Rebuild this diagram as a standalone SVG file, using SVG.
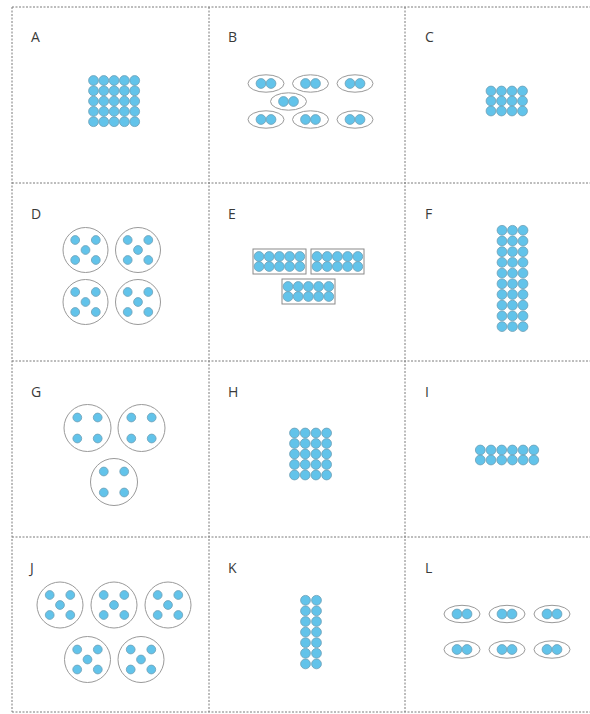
<svg xmlns="http://www.w3.org/2000/svg" width="590" height="714" viewBox="0 0 590 714">
<style>
.grid{stroke:#7a7a7a;stroke-width:1;stroke-dasharray:2 1.5;fill:none}
.lbl{font-family:"Open Sans","Noto Sans",sans-serif;font-size:14px;fill:#3a3a3a}
.ring{fill:#fff;stroke:#9a9a9a;stroke-width:1}
.box{fill:#fff;stroke:#8a8a8a;stroke-width:1}
</style>
<defs>
<circle id="d" r="4.9" fill="#62c3ea" stroke="#6e9fb5" stroke-width="0.8"/>
<circle id="s" r="4.4" fill="#62c3ea" stroke="#6e9fb5" stroke-width="0.8"/>
<g id="five"><use href="#s" x="-10.3" y="-10"/><use href="#s" x="10.3" y="-10"/><use href="#s" x="0" y="0"/><use href="#s" x="-10.3" y="10"/><use href="#s" x="10.3" y="10"/></g>
<g id="four"><use href="#s" x="-10.2" y="-10.5"/><use href="#s" x="10.2" y="-10.5"/><use href="#s" x="-10.2" y="10.5"/><use href="#s" x="10.2" y="10.5"/></g>
<g id="pair"><ellipse class="ring" rx="18" ry="8.7"/><use href="#d" x="-5" y="0"/><use href="#d" x="5" y="0"/></g>
<g id="row5"><use href="#d" x="0" y="0"/><use href="#d" x="10.2" y="0"/><use href="#d" x="20.4" y="0"/><use href="#d" x="30.6" y="0"/><use href="#d" x="40.8" y="0"/></g>
<g id="ten"><rect class="box" x="0" y="0" width="53" height="25"/><use href="#row5" x="6" y="7.5"/><use href="#row5" x="6" y="17.5"/></g>
</defs>
<rect width="590" height="714" fill="#fff"/>
<g id="grid">
<path class="grid" d="M12 7H590M12 183H590M12 361H590M12 537H590M12 712H590M12 7V712M209 7V712M405 7V712"/>
</g>
<g id="labels">
<text class="lbl" x="31" y="42">A</text>
<text class="lbl" x="228" y="42">B</text>
<text class="lbl" x="425" y="42">C</text>
<text class="lbl" x="31" y="219">D</text>
<text class="lbl" x="228" y="219">E</text>
<text class="lbl" x="425" y="219">F</text>
<text class="lbl" x="31" y="397">G</text>
<text class="lbl" x="228" y="397">H</text>
<text class="lbl" x="425" y="397">I</text>
<text class="lbl" x="30" y="573">J</text>
<text class="lbl" x="228" y="573">K</text>
<text class="lbl" x="425" y="573">L</text>
</g>
<g id="A" transform="translate(93.5,80.5)">
<use href="#d" x="0" y="0"/><use href="#d" x="10.3" y="0"/><use href="#d" x="20.6" y="0"/><use href="#d" x="30.9" y="0"/><use href="#d" x="41.2" y="0"/>
<use href="#d" x="0" y="10.3"/><use href="#d" x="10.3" y="10.3"/><use href="#d" x="20.6" y="10.3"/><use href="#d" x="30.9" y="10.3"/><use href="#d" x="41.2" y="10.3"/>
<use href="#d" x="0" y="20.6"/><use href="#d" x="10.3" y="20.6"/><use href="#d" x="20.6" y="20.6"/><use href="#d" x="30.9" y="20.6"/><use href="#d" x="41.2" y="20.6"/>
<use href="#d" x="0" y="30.9"/><use href="#d" x="10.3" y="30.9"/><use href="#d" x="20.6" y="30.9"/><use href="#d" x="30.9" y="30.9"/><use href="#d" x="41.2" y="30.9"/>
<use href="#d" x="0" y="41.2"/><use href="#d" x="10.3" y="41.2"/><use href="#d" x="20.6" y="41.2"/><use href="#d" x="30.9" y="41.2"/><use href="#d" x="41.2" y="41.2"/>
</g>
<g id="B">
<use href="#pair" x="266" y="83.5"/><use href="#pair" x="310.5" y="83.5"/><use href="#pair" x="355" y="83.5"/>
<use href="#pair" x="288.5" y="101.5"/>
<use href="#pair" x="266" y="119.5"/><use href="#pair" x="310.5" y="119.5"/><use href="#pair" x="355" y="119.5"/>
</g>
<g id="C" transform="translate(491,91)">
<use href="#d" x="0" y="0"/><use href="#d" x="10.5" y="0"/><use href="#d" x="21" y="0"/><use href="#d" x="31.5" y="0"/>
<use href="#d" x="0" y="10"/><use href="#d" x="10.5" y="10"/><use href="#d" x="21" y="10"/><use href="#d" x="31.5" y="10"/>
<use href="#d" x="0" y="20"/><use href="#d" x="10.5" y="20"/><use href="#d" x="21" y="20"/><use href="#d" x="31.5" y="20"/>
</g>
<g id="D">
<circle class="ring" cx="85.5" cy="250" r="22.5"/><use href="#five" x="85.5" y="250"/>
<circle class="ring" cx="138" cy="250" r="22.5"/><use href="#five" x="138" y="250"/>
<circle class="ring" cx="85.5" cy="302" r="22.5"/><use href="#five" x="85.5" y="302"/>
<circle class="ring" cx="138" cy="302" r="22.5"/><use href="#five" x="138" y="302"/>
</g>
<g id="E">
<use href="#ten" x="253" y="249"/><use href="#ten" x="311" y="249"/><use href="#ten" x="282" y="279"/>
</g>
<g id="F" transform="translate(502,230.3)">
<use href="#d" x="0" y="0"/><use href="#d" x="10.5" y="0"/><use href="#d" x="21" y="0"/>
<use href="#d" x="0" y="10.7"/><use href="#d" x="10.5" y="10.7"/><use href="#d" x="21" y="10.7"/>
<use href="#d" x="0" y="21.4"/><use href="#d" x="10.5" y="21.4"/><use href="#d" x="21" y="21.4"/>
<use href="#d" x="0" y="32.1"/><use href="#d" x="10.5" y="32.1"/><use href="#d" x="21" y="32.1"/>
<use href="#d" x="0" y="42.8"/><use href="#d" x="10.5" y="42.8"/><use href="#d" x="21" y="42.8"/>
<use href="#d" x="0" y="53.5"/><use href="#d" x="10.5" y="53.5"/><use href="#d" x="21" y="53.5"/>
<use href="#d" x="0" y="64.2"/><use href="#d" x="10.5" y="64.2"/><use href="#d" x="21" y="64.2"/>
<use href="#d" x="0" y="74.9"/><use href="#d" x="10.5" y="74.9"/><use href="#d" x="21" y="74.9"/>
<use href="#d" x="0" y="85.6"/><use href="#d" x="10.5" y="85.6"/><use href="#d" x="21" y="85.6"/>
<use href="#d" x="0" y="96.3"/><use href="#d" x="10.5" y="96.3"/><use href="#d" x="21" y="96.3"/>
</g>
<g id="G">
<circle class="ring" cx="87.5" cy="428" r="23.5"/><use href="#four" x="87.5" y="428"/>
<circle class="ring" cx="141.5" cy="428" r="23.5"/><use href="#four" x="141.5" y="428"/>
<circle class="ring" cx="114" cy="482" r="23.5"/><use href="#four" x="114" y="482"/>
</g>
<g id="H" transform="translate(294.5,433)">
<use href="#d" x="0" y="0"/><use href="#d" x="10.7" y="0"/><use href="#d" x="21.4" y="0"/><use href="#d" x="32.1" y="0"/>
<use href="#d" x="0" y="10.5"/><use href="#d" x="10.7" y="10.5"/><use href="#d" x="21.4" y="10.5"/><use href="#d" x="32.1" y="10.5"/>
<use href="#d" x="0" y="21"/><use href="#d" x="10.7" y="21"/><use href="#d" x="21.4" y="21"/><use href="#d" x="32.1" y="21"/>
<use href="#d" x="0" y="31.5"/><use href="#d" x="10.7" y="31.5"/><use href="#d" x="21.4" y="31.5"/><use href="#d" x="32.1" y="31.5"/>
<use href="#d" x="0" y="42"/><use href="#d" x="10.7" y="42"/><use href="#d" x="21.4" y="42"/><use href="#d" x="32.1" y="42"/>
</g>
<g id="I" transform="translate(480.3,450)">
<use href="#d" x="0" y="0"/><use href="#d" x="10.7" y="0"/><use href="#d" x="21.4" y="0"/><use href="#d" x="32.1" y="0"/><use href="#d" x="42.8" y="0"/><use href="#d" x="53.5" y="0"/>
<use href="#d" x="0" y="10"/><use href="#d" x="10.7" y="10"/><use href="#d" x="21.4" y="10"/><use href="#d" x="32.1" y="10"/><use href="#d" x="42.8" y="10"/><use href="#d" x="53.5" y="10"/>
</g>
<g id="J">
<circle class="ring" cx="60" cy="605" r="23"/><use href="#five" x="60" y="605"/>
<circle class="ring" cx="114" cy="605" r="23"/><use href="#five" x="114" y="605"/>
<circle class="ring" cx="168" cy="605" r="23"/><use href="#five" x="168" y="605"/>
<circle class="ring" cx="87.5" cy="659.5" r="23"/><use href="#five" x="87.5" y="659.5"/>
<circle class="ring" cx="141" cy="659.5" r="23"/><use href="#five" x="141" y="659.5"/>
</g>
<g id="K" transform="translate(305.5,600.3)">
<use href="#d" x="0" y="0"/><use href="#d" x="11" y="0"/>
<use href="#d" x="0" y="10.6"/><use href="#d" x="11" y="10.6"/>
<use href="#d" x="0" y="21.2"/><use href="#d" x="11" y="21.2"/>
<use href="#d" x="0" y="31.8"/><use href="#d" x="11" y="31.8"/>
<use href="#d" x="0" y="42.4"/><use href="#d" x="11" y="42.4"/>
<use href="#d" x="0" y="53"/><use href="#d" x="11" y="53"/>
<use href="#d" x="0" y="63.6"/><use href="#d" x="11" y="63.6"/>
</g>
<g id="L">
<use href="#pair" x="462" y="614"/><use href="#pair" x="507" y="614"/><use href="#pair" x="552" y="614"/>
<use href="#pair" x="462" y="649.5"/><use href="#pair" x="507" y="649.5"/><use href="#pair" x="552" y="649.5"/>
</g>
</svg>
